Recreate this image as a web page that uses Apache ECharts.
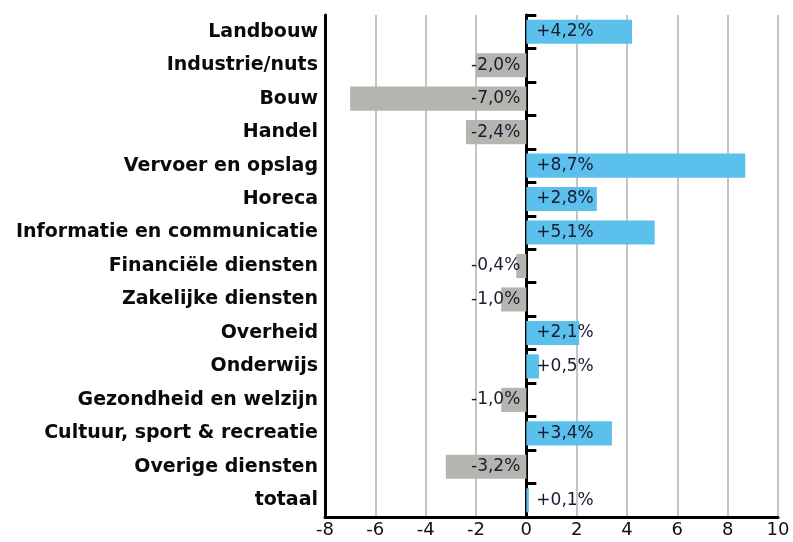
<!DOCTYPE html>
<html>
<head>
<meta charset="utf-8">
<script src="https://cdn.jsdelivr.net/npm/echarts@6/dist/echarts.min.js"></script>
<style>
  html, body { margin: 0; padding: 0; background: #fff; }
  #chart { width: 793px; height: 542px; }
</style>
</head>
<body>
<div id="chart"></div>
<script>
var categories = [
  'Landbouw', 'Industrie/nuts', 'Bouw', 'Handel', 'Vervoer en opslag', 'Horeca',
  'Informatie en communicatie', 'Financiële diensten', 'Zakelijke diensten', 'Overheid',
  'Onderwijs', 'Gezondheid en welzijn', 'Cultuur, sport & recreatie', 'Overige diensten', 'totaal'
];
var values = [4.2, -2.0, -7.0, -2.4, 8.7, 2.8, 5.1, -0.4, -1.0, 2.1, 0.5, -1.0, 3.4, -3.2, 0.1];
var xTicks = [-8, -6, -4, -2, 0, 2, 4, 6, 8, 10];

var BLUE = '#5bc0ec';
var GREY = '#b5b5b0';
var LABEL = '#1a1a30';

function fmt(v) {
  return (v > 0 ? '+' : '') + v.toFixed(1).replace('.', ',') + '%';
}

var barData = values.map(function(v) {
  return {
    value: v,
    itemStyle: { color: v >= 0 ? BLUE : GREY },
    label: {
      position: v >= 0 ? 'insideLeft' : 'insideRight',
      distance: v >= 0 ? 10 : 6
    }
  };
});

var chart = echarts.init(document.getElementById('chart'));
chart.setOption({
  animation: false,
  grid: { left: 325, right: 15, top: 15, bottom: 25 },
  xAxis: {
    type: 'value',
    min: xTicks[0],
    max: xTicks[xTicks.length - 1],
    interval: 2,
    axisLine: { show: true, onZero: false, lineStyle: { color: '#000', width: 3 } },
    axisTick: { show: false },
    axisLabel: { color: '#111', fontSize: 18, fontFamily: 'DejaVu Sans', margin: 4 },
    splitLine: { show: true, lineStyle: { color: '#c4c4c4', width: 2 } }
  },
  yAxis: [
    {
      type: 'category',
      data: categories,
      inverse: true,
      position: 'left',
      axisLine: { show: true, onZero: false, lineStyle: { color: '#000', width: 3 } },
      axisTick: { show: false },
      axisLabel: {
        color: '#0a0a0a', fontSize: 19, fontWeight: 'bold', fontFamily: 'DejaVu Sans', margin: 7
      },
      splitLine: { show: false }
    },
    {
      type: 'category',
      data: categories,
      inverse: true,
      position: 'left',
      axisLine: { show: true, onZero: true, lineStyle: { color: '#000', width: 3 } },
      axisTick: { show: true, inside: true, length: 10, lineStyle: { color: '#000', width: 3 } },
      axisLabel: { show: false },
      splitLine: { show: false }
    }
  ],
  series: [
    {
      type: 'bar',
      yAxisIndex: 0,
      data: barData,
      barWidth: '72%',
      label: {
        show: true,
        color: LABEL,
        fontSize: 17,
        fontFamily: 'DejaVu Sans',
        formatter: function(p) { return fmt(p.value); }
      }
    }
  ]
});
</script>
</body>
</html>
